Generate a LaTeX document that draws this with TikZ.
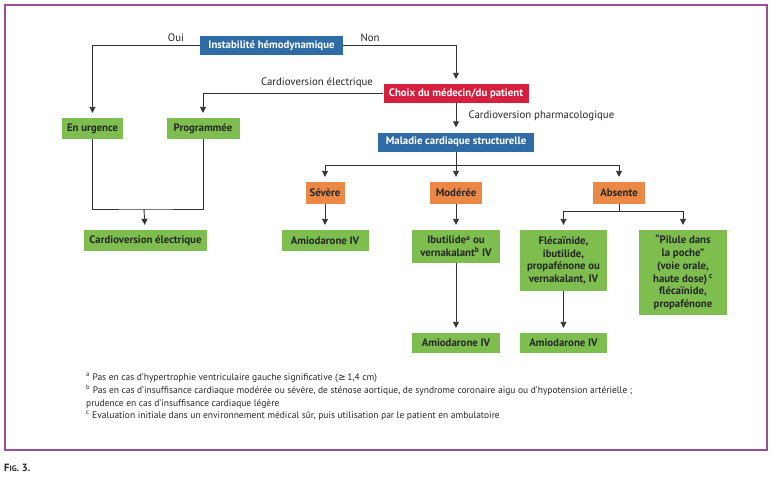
\documentclass[tikz,border=0pt]{standalone}
\usepackage{fontspec}
\setmainfont{PT Sans}
\newfontfamily\symfont{DejaVu Sans}
\usetikzlibrary{arrows.meta}
\definecolor{hemoblue}{HTML}{2F6CA6}
\definecolor{choixred}{HTML}{D51F3C}
\definecolor{sevorange}{HTML}{EB8846}
\definecolor{drugreen}{HTML}{7DBE4F}
\definecolor{framepurple}{HTML}{9C4F97}
\definecolor{linegray}{HTML}{333333}
\begin{document}
\begin{tikzpicture}[x=1pt,y=-1pt,
  box/.style={inner sep=0pt, align=center, font=\bfseries\fontsize{10.8}{12.7}\selectfont},
  bluebox/.style={box, fill=hemoblue, text=white, minimum height=19pt},
  redbox/.style={box, fill=choixred, text=white, minimum height=19pt},
  orangebox/.style={box, fill=sevorange, text=black!85, minimum height=22pt},
  greenbox/.style={box, fill=drugreen, text=black!85},
  lnk/.style={draw=linegray, line width=0.9pt},
  arr/.style={lnk, -{Triangle[width=6pt,length=6pt]}, shorten >=5pt},
  lab/.style={font=\fontsize{10.8}{12}\selectfont, text=black!85}]
  \useasboundingbox (0,0) rectangle (773,485);
  \draw[framepurple, line width=1.4pt] (5,5) rectangle (767,450);
  % top of the tree
  \node[bluebox, minimum width=143pt] (inst) at (271.5,45.5) {Instabilité hémodynamique};
  \node[redbox, minimum width=145pt] (choix) at (456,93.5) {Choix du médecin/du patient};
  \node[bluebox, minimum width=156pt] (mal) at (456,142) {Maladie cardiaque structurelle};
  % electrical cardioversion branch
  \node[greenbox, minimum width=61pt, minimum height=21pt] (urg) at (92.5,128.5) {En urgence};
  \node[greenbox, minimum width=73pt, minimum height=21pt] (prog) at (203,128.5) {Programmée};
  \node[greenbox, minimum width=123pt, minimum height=21pt] (cve) at (145.5,240.5) {Cardioversion électrique};
  % severity levels
  \node[orangebox, minimum width=39pt] (sev) at (325,193) {Sévère};
  \node[orangebox, minimum width=52pt] (mod) at (456,193) {Modérée};
  \node[orangebox, minimum width=52pt] (abs) at (619,193) {Absente};
  % drugs
  \node[greenbox, minimum width=87pt, minimum height=21pt] (amio1) at (325,240.5) {Amiodarone IV};
  \node[greenbox, minimum width=88pt, minimum height=33pt] (ibu) at (456,246.5) {Ibutilide\textsuperscript{a} ou\\vernakalant\textsuperscript{b} IV};
  \node[greenbox, minimum width=87pt, minimum height=61pt] (fle) at (563.5,260.5) {Flécaïnide,\\ibutilide,\\propafénone ou\\vernakalant, IV};
  \node[greenbox, minimum width=88pt, minimum height=85pt] (pil) at (683,272.5) {“Pilule dans\\la poche”\\(voie orale,\\haute dose)\textsuperscript{ c}\\flécaïnide,\\propafénone};
  \node[greenbox, minimum width=88pt, minimum height=20pt] (amio2) at (456,343) {Amiodarone IV};
  \node[greenbox, minimum width=87pt, minimum height=20pt] (amio3) at (563.5,343) {Amiodarone IV};
  % connectors
  \draw[arr] (inst.west) -| (urg.north);
  \draw[arr] (inst.east) -| (choix.north);
  \node[lab] (oui) at (176,38) {Oui};
  \node[lab] (non) at (370,38) {Non};
  \draw[arr] (choix.west) -| (prog.north);
  \node[lab] (elec) at (317,83) {Cardioversion électrique};
  \draw[arr] (choix) -- (mal);
  \node[lab, anchor=west] (pharma) at (465,116) {Cardioversion pharmacologique};
  \coordinate (jcve) at (144,209);
  \draw[lnk] (urg.south) |- (jcve) -| (prog.south);
  \draw[arr] (jcve) -- (cve);
  \coordinate (jmal) at (456,165);
  \draw[lnk] (mal.south) -- (jmal);
  \foreach \n in {sev,mod,abs}
    \draw[arr] (jmal) -| (\n.north);
  \draw[arr] (sev) -- (amio1);
  \draw[arr] (mod) -- (ibu);
  \draw[arr] (ibu) -- (amio2);
  \coordinate (jabs) at (619,211);
  \draw[lnk] (abs.south) -- (jabs);
  \foreach \n in {fle,pil}
    \draw[arr] (jabs) -| (\n.north);
  \draw[arr] (fle) -- (amio3);
  % footnotes
  \node[anchor=north west, align=left, inner sep=0pt, font=\fontsize{9.5}{12.8}\selectfont, text=black!85] (notes) at (86,373)
    {\textsuperscript{a} Pas en cas d’hypertrophie ventriculaire gauche significative ({\symfont≥}\,1,4 cm)\\
     \textsuperscript{b} Pas en cas d’insuffisance cardiaque modérée ou sévère, de sténose aortique, de syndrome coronaire aigu ou d’hypotension artérielle ;\\
     prudence en cas d’insuffisance cardiaque légère\\
     \textsuperscript{c} Evaluation initiale dans un environnement médical sûr, puis utilisation par le patient en ambulatoire};
  \node[anchor=west, inner sep=0pt, font=\bfseries\fontsize{10.5}{12}\selectfont, text=black!85] (fig) at (4,468) {F{\fontsize{8}{10}\selectfont IG}. 3.};
\end{tikzpicture}
\end{document}
